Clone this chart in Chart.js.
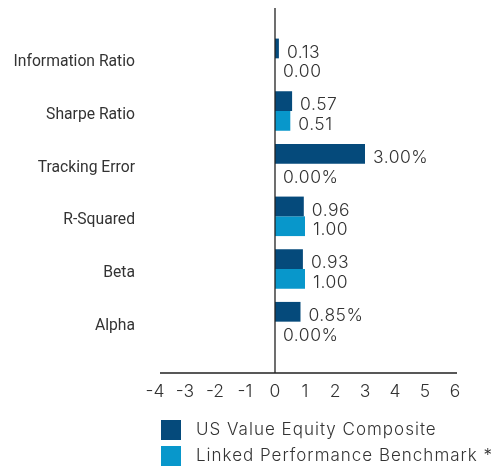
<!DOCTYPE html>
<html>
<head>
<meta charset="utf-8">
<script src="https://cdn.jsdelivr.net/npm/chart.js@4.4.1/dist/chart.umd.min.js"></script>
<style>
    html, body { margin: 0; padding: 0; background: #fff; }
    #wrap { position: relative; width: 495px; height: 469px; }
</style>
</head>
<body>
<div id="wrap"><canvas id="riskChart"></canvas></div>
<script>
// Data
const categories = ['Information Ratio', 'Sharpe Ratio', 'Tracking Error', 'R-Squared', 'Beta', 'Alpha'];
const compositeValues = [0.13, 0.57, 3.00, 0.96, 0.93, 0.85];
const benchmarkValues = [0.00, 0.51, 0.00, 1.00, 1.00, 0.00];
const valueSuffixes = ['', '', '%', '', '', '%'];
const seriesNames = ['US Value Equity Composite', 'Linked Performance Benchmark *'];
const xTicks = [-4, -3, -2, -1, 0, 1, 2, 3, 4, 5, 6];

const colors = ['#054a7b', '#0897cb'];
const textColor = '#333333';
const lightFamily = 'Inter, "Liberation Sans", sans-serif';

// value labels right of each bar
const valueLabels = {
    id: 'valueLabels',
    afterDatasetsDraw(chart) {
        const ctx = chart.ctx;
        ctx.save();
        ctx.font = '300 17.5px ' + lightFamily;
        ctx.letterSpacing = '0.5px';
        ctx.fillStyle = textColor;
        ctx.textAlign = 'left';
        ctx.textBaseline = 'middle';
        chart.data.datasets.forEach((ds, i) => {
            chart.getDatasetMeta(i).data.forEach((bar, j) => {
                const txt = ds.data[j].toFixed(2) + valueSuffixes[j];
                ctx.fillText(txt, bar.x + 8, bar.y + 4);
            });
        });
        ctx.restore();
    }
};

// zero line, axis line and legend
const frame = {
    id: 'frame',
    afterDraw(chart) {
        const ctx = chart.ctx;
        const x0 = chart.scales.x.getPixelForValue(0);
        ctx.save();
        ctx.strokeStyle = '#222';
        ctx.lineWidth = 1.3;
        ctx.beginPath();
        ctx.moveTo(x0, 8);
        ctx.lineTo(x0, 373);
        ctx.moveTo(160, 373);
        ctx.lineTo(457, 373);
        ctx.stroke();

        ctx.font = '300 17px ' + lightFamily;
        ctx.letterSpacing = '1px';
        ctx.textAlign = 'left';
        ctx.textBaseline = 'middle';
        chart.data.datasets.forEach((ds, i) => {
            const y = 420 + i * 26;
            ctx.fillStyle = ds.backgroundColor;
            ctx.fillRect(161, y, 20, 20);
            ctx.fillStyle = textColor;
            ctx.fillText(ds.label, 196, y + 10);
        });
        ctx.restore();
    }
};

new Chart(document.getElementById('riskChart'), {
    type: 'bar',
    data: {
        labels: categories,
        datasets: [
            { label: seriesNames[0], data: compositeValues, backgroundColor: colors[0] },
            { label: seriesNames[1], data: benchmarkValues, backgroundColor: colors[1] }
        ]
    },
    options: {
        indexAxis: 'y',
        responsive: true,
        maintainAspectRatio: false,
        animation: false,
        categoryPercentage: 0.75,
        barPercentage: 1.0,
        layout: { padding: { top: 32, right: 40, bottom: 0, left: 0 } },
        plugins: {
            legend: { display: false },
            tooltip: { enabled: false }
        },
        scales: {
            x: {
                min: -4,
                max: 6,
                afterFit: s => { s.height = 121; },
                afterBuildTicks: s => { s.ticks = xTicks.map(v => ({ value: v })); },
                grid: { display: false, drawTicks: false },
                border: { display: false },
                ticks: {
                    padding: 33,
                    color: textColor,
                    font: { family: lightFamily, size: 17.5, weight: '300' }
                }
            },
            y: {
                afterFit: s => { s.width = 155; },
                grid: { display: false, drawTicks: false },
                border: { display: false },
                ticks: {
                    padding: 20,
                    labelOffset: 4,
                    color: textColor,
                    font: { family: 'Roboto, sans-serif', size: 15.7 }
                }
            }
        }
    },
    plugins: [valueLabels, frame]
});
</script>
</body>
</html>
